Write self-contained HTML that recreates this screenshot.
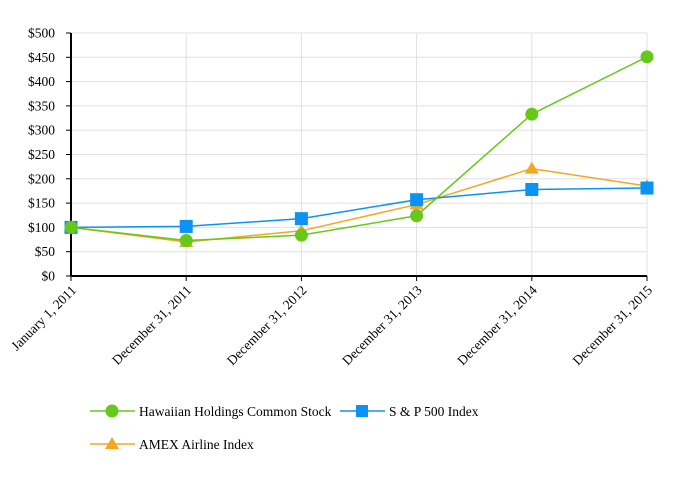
<!DOCTYPE html>
<html><head><meta charset="utf-8"><style>
html,body{margin:0;padding:0;background:#fff;}
svg{display:block;font-family:"Liberation Serif",serif;}
</style></head><body>
<svg id="chart" width="680" height="481">
<g id="grid"></g>
<g id="axes"></g>
<g id="series"></g>
<g id="legend">
  <g>
    <line x1="90" y1="411" x2="135" y2="411" stroke="#66c91a" stroke-width="1.5"/>
    <circle cx="112" cy="411" r="6.5" fill="#66c91a"/>
    <text x="139" y="416" font-size="13.5" fill="#000">Hawaiian Holdings Common Stock</text>
  </g>
  <g>
    <line x1="340" y1="411" x2="385" y2="411" stroke="#1a8fe6" stroke-width="1.5"/>
    <rect x="356" y="405" width="12" height="12" fill="#0a93f5"/>
    <text x="389" y="416" font-size="13.5" fill="#000">S &amp; P 500 Index</text>
  </g>
  <g>
    <line x1="90" y1="444" x2="135" y2="444" stroke="#f5a623" stroke-width="1.5"/>
    <polygon points="112,437 119,449 105,449" fill="#f5a623"/>
    <text x="139" y="449" font-size="13.5" fill="#000">AMEX Airline Index</text>
  </g>
</g>
</svg>
<script>
const categories = ["January 1, 2011","December 31, 2011","December 31, 2012","December 31, 2013","December 31, 2014","December 31, 2015"];
const hawaiian = [100, 73, 84, 124, 333, 451];
const sp500 = [100, 102, 118, 157, 178, 181];
const amex = [100, 70, 93, 147, 221, 185];
const yTicks = [0,50,100,150,200,250,300,350,400,450,500];
const yTickLabels = ["$0","$50","$100","$150","$200","$250","$300","$350","$400","$450","$500"];

const NS="http://www.w3.org/2000/svg";
const X0=71,X1=647,Y0=276,Y1=33;
function xPos(i){return X0+(X1-X0)*i/(categories.length-1);}
function yPos(v){return Y0-(Y0-Y1)*v/500;}
function mk(tag,attrs,parent){const e=document.createElementNS(NS,tag);for(const k in attrs)e.setAttribute(k,attrs[k]);parent.appendChild(e);return e;}
const grid=document.getElementById('grid'),axes=document.getElementById('axes'),ser=document.getElementById('series');
yTicks.forEach((t,i)=>{
  const y=yPos(t);
  if(t>0){const g=mk('line',{x1:X0,x2:X1,y1:y,y2:y,stroke:'#e0e0e0','stroke-width':1},grid);
  
  }
  const tk=mk('line',{x1:66,x2:X0,y1:y,y2:y,stroke:'#000','stroke-width':1},axes);
  
  
  const tx=mk('text',{x:55,y:y+4.5,'font-size':13.5,'text-anchor':'end',fill:'#000'},axes);
  tx.textContent=yTickLabels[i];
  
  
});
categories.forEach((c,i)=>{
  const x=xPos(i);
  if(i>0){const g=mk('line',{x1:x,x2:x,y1:Y1,y2:Y0,stroke:'#e0e0e0','stroke-width':1},grid);
  
  }
  const tk=mk('line',{x1:x,x2:x,y1:Y0,y2:Y0+5,stroke:'#000','stroke-width':1},axes);
  
  
  const lx=x+6,ly=Y0+15;
  const tx=mk('text',{x:lx,y:ly,'font-size':13.5,'text-anchor':'end',fill:'#000',transform:`rotate(-45 ${lx} ${ly})`},axes);
  tx.textContent=c;
  
  
});
const ya=mk('line',{x1:X0,x2:X0,y1:Y1,y2:Y0,stroke:'#000','stroke-width':2},axes);


const xa=mk('line',{x1:X0,x2:X1,y1:Y0,y2:Y0,stroke:'#000','stroke-width':2},axes);



function drawSeries(vals,color,shape,name){
  const g=mk('g',{},ser);
  
  
  const pl=mk('polyline',{points:vals.map((v,i)=>xPos(i)+','+yPos(v)).join(' '),fill:'none',stroke:color,'stroke-width':1.5},g);
  
  
  vals.forEach((v,i)=>{
    const x=xPos(i),y=yPos(v);let m;
    if(shape==='circle')m=mk('circle',{cx:x,cy:y,r:6.5,fill:color},g);
    else if(shape==='square')m=mk('rect',{x:x-6.5,y:y-6.5,width:13,height:13,fill:color},g);
    else m=mk('polygon',{points:`${x},${y-7} ${x+7},${y+5} ${x-7},${y+5}`,fill:color},g);
    
    
  });
}
drawSeries(amex,'#f5a623','triangle','amex-series');
drawSeries(sp500,'#0a93f5','square','sp500-series');
drawSeries(hawaiian,'#66c91a','circle','hawaiian-series');
</script>
</body></html>
